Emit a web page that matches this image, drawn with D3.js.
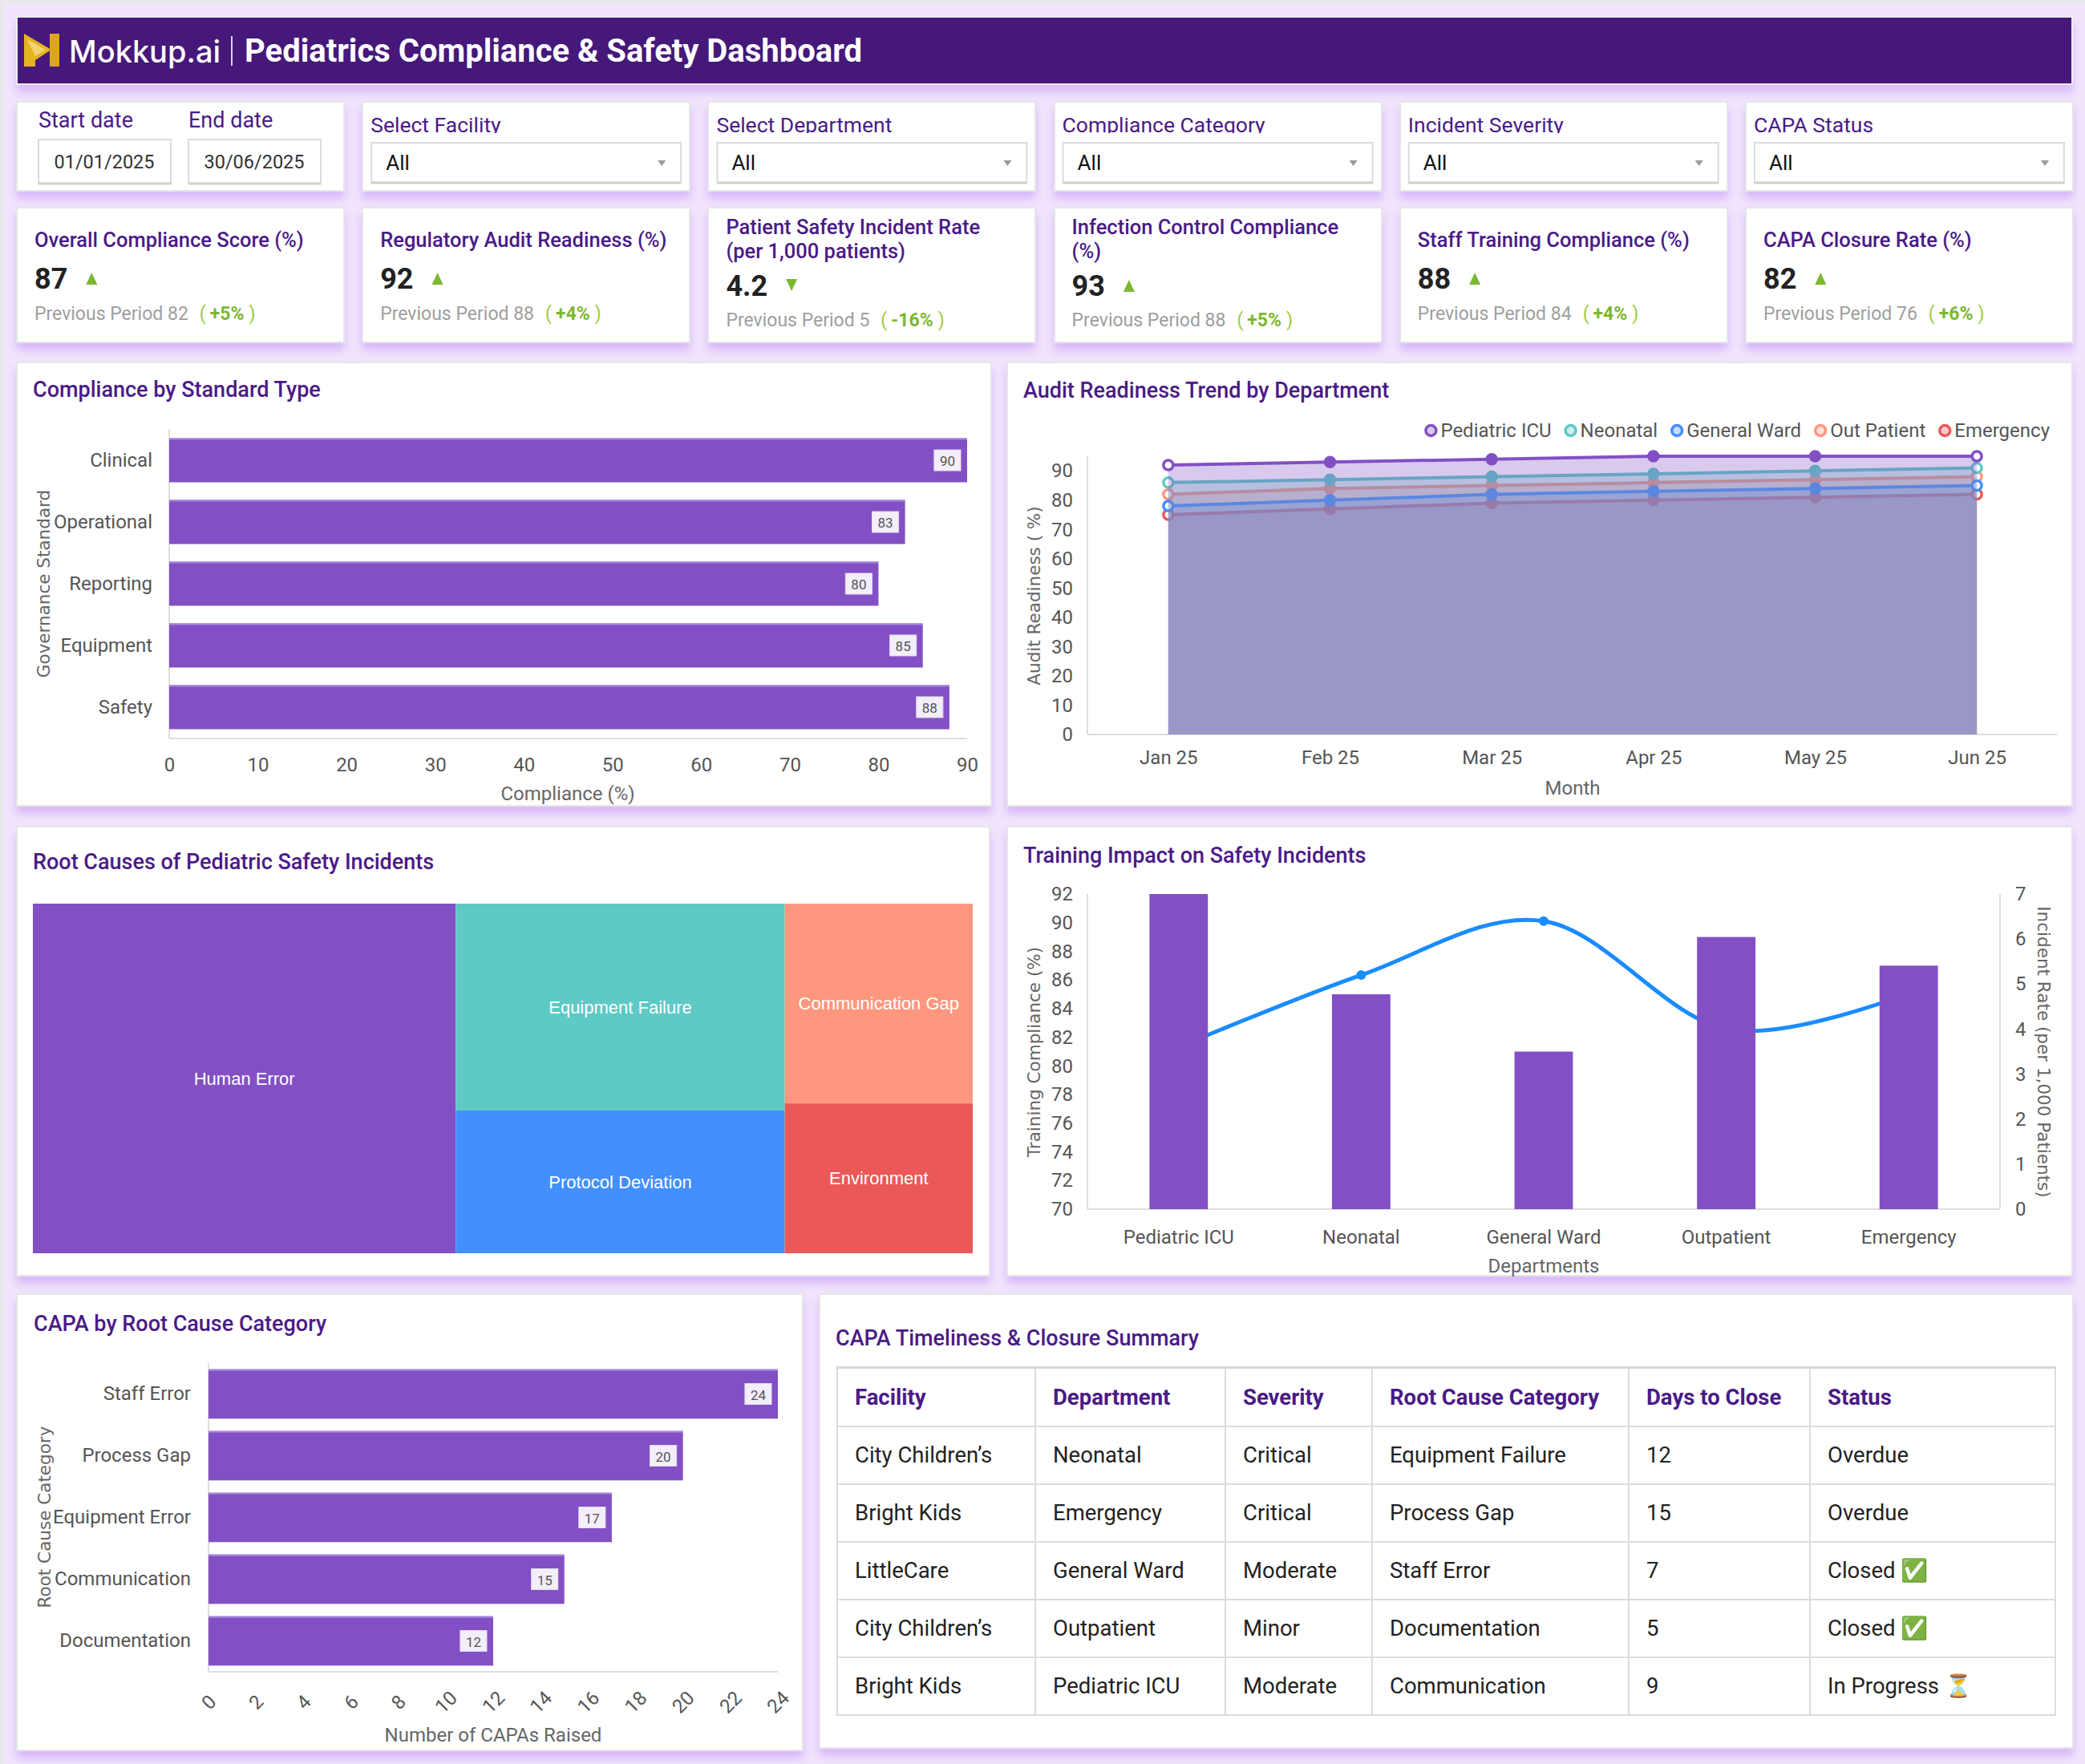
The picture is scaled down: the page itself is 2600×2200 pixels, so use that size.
<!DOCTYPE html>
<html>
<head>
<meta charset="utf-8">
<title>Pediatrics Compliance &amp; Safety Dashboard</title>
<script src="https://cdn.jsdelivr.net/npm/d3@7"></script>
<style>
  html, body { margin:0; padding:0; }
  body { width:2600px; height:2200px; background:#f1e5fd; font-family:Roboto, "Noto Sans", sans-serif; overflow:hidden; }
  #page { position:relative; width:2600px; height:2200px; box-shadow: inset 4px 4px 0 #e8e8e8; }
  .card { position:absolute; background:#fff; border:2px solid #e6e6e6; box-sizing:border-box;
          box-shadow:0 9px 10px rgba(196,150,246,0.55); }
  .header { background:#45187a; border-color:#efeaf6; }
  #capaTable { position:absolute; left:1043px; top:1704px; border-collapse:collapse; table-layout:fixed;
               font-family:Roboto, sans-serif; font-size:27.5px; color:#222; }
  #capaTable th, #capaTable td { border:2px solid #dcdcdc; padding:0 0 0 21px; text-align:left; height:70px; box-sizing:border-box; }
  #capaTable th { color:#4a1a87; font-weight:700; border-top:3px solid #d6d6d6; }
</style>
</head>
<body>
<div id="page"></div>
<script>
// ---------- données ----------
var dateLabels = ["Start date", "End date"];
var dateValues = ["01/01/2025", "30/06/2025"];
var filterLabels = ["Select Facility", "Select Department", "Compliance Category", "Incident Severity", "CAPA Status"];
var filterValues = ["All", "All", "All", "All", "All"];

var kpiTitles = [["Overall Compliance Score (%)"], ["Regulatory Audit Readiness (%)"],
                 ["Patient Safety Incident Rate", "(per 1,000 patients)"], ["Infection Control Compliance", "(%)"],
                 ["Staff Training Compliance (%)"], ["CAPA Closure Rate (%)"]];
var kpiValues = ["87", "92", "4.2", "93", "88", "82"];
var kpiPrevious = ["82", "88", "5", "88", "84", "76"];
var kpiChange = ["+5%", "+4%", "-16%", "+5%", "+4%", "+6%"];
var kpiDirection = ["up", "up", "down", "up", "up", "up"];

var standards = ["Clinical", "Operational", "Reporting", "Equipment", "Safety"];
var standardCompliance = [90, 83, 80, 85, 88];

var months = ["Jan 25", "Feb 25", "Mar 25", "Apr 25", "May 25", "Jun 25"];
var departments = ["Pediatric ICU", "Neonatal", "General Ward", "Out Patient", "Emergency"];
var readinessPediatricICU = [92, 93, 94, 95, 95, 95];
var readinessNeonatal = [86, 87, 88, 89, 90, 91];
var readinessGeneralWard = [78, 80, 82, 83, 84, 85];
var readinessOutPatient = [82, 84, 85, 86, 87, 88];
var readinessEmergency = [75, 77, 79, 80, 81, 82];

var rootCauses = ["Human Error", "Equipment Failure", "Protocol Deviation", "Communication Gap", "Environment"];
var rootCauseCounts = [63, 29, 20, 16, 12];

var trainingDepts = ["Pediatric ICU", "Neonatal", "General Ward", "Outpatient", "Emergency"];
var trainingCompliance = [92, 85, 81, 89, 87];
var incidentRate = [3.6, 5.2, 6.4, 4.0, 4.8];

var capaCategories = ["Staff Error", "Process Gap", "Equipment Error", "Communication", "Documentation"];
var capaCounts = [24, 20, 17, 15, 12];

var tableHeaders = ["Facility", "Department", "Severity", "Root Cause Category", "Days to Close", "Status"];
var tableRows = [
  ["City Children\u2019s", "Neonatal", "Critical", "Equipment Failure", "12", "Overdue"],
  ["Bright Kids", "Emergency", "Critical", "Process Gap", "15", "Overdue"],
  ["LittleCare", "General Ward", "Moderate", "Staff Error", "7", "Closed \u2705"],
  ["City Children\u2019s", "Outpatient", "Minor", "Documentation", "5", "Closed \u2705"],
  ["Bright Kids", "Pediatric ICU", "Moderate", "Communication", "9", "In Progress \u23F3"]
];

// ---------- styles ----------
var purple = "#8250c4";
var titleColor = "#4a1a87";
var tickColor = "#555";
var tickSize = 24;
var deptColors = ["#8250c4", "#5ec9c5", "#448ffe", "#ff977e", "#eb5858"];
var causeColors = ["#8250c4", "#5ec9c5", "#448ffe", "#ff977e", "#eb5858"];

var page = d3.select("#page");

/* cartes (div) sous le svg */
function card(x, y, w, h, cls) {
  page.append("div").attr("class", "card " + (cls || ""))
    .style("left", x + "px").style("top", y + "px").style("width", w + "px").style("height", h + "px");
}
card(20, 20, 2565, 86, "header");
function colX(i) { return 20 + i * 431.2; }
for (var i = 0; i < 6; i++) { card(colX(i), 126, 410, 113); card(colX(i), 258, 410, 170); }
card(20, 451, 1217, 555); card(1255, 451, 1330, 555);
card(20, 1030, 1215, 562); card(1255, 1030, 1330, 562);
card(20, 1613, 982, 571); card(1021, 1613, 1565, 568);

var svg = page.append("svg").attr("width", 2600).attr("height", 2200)
  .style("position", "absolute").style("left", "0px").style("top", "0px")
  .style("font-family", "Roboto, sans-serif");

// ---------- entete ----------
var logo = svg.append("g");
logo.append("path").attr("d", "M30,42 L64,62 L44,75 L44,83 L30,83 Z").attr("fill", "#e5b31f");
logo.append("path").attr("d", "M62,42 L74,42 L74,83 L62,83 Z").attr("fill", "#dba616");
logo.append("path").attr("d", "M34,49 L57,62 L44,70 Z").attr("fill", "#f4dc86").attr("opacity", 0.8);
svg.append("text").attr("x", 86).attr("y", 78).text("Mokkup.ai")
  .attr("font-family", "Inter, sans-serif").attr("font-size", 38).attr("font-weight", 500).attr("fill", "#fff");
svg.append("line").attr("x1", 289).attr("x2", 289).attr("y1", 45).attr("y2", 82).attr("stroke", "#d9cfe8").attr("stroke-width", 2);
svg.append("text").attr("x", 305).attr("y", 77).text("Pediatrics Compliance & Safety Dashboard")
  .attr("font-size", 40).attr("font-weight", 700).attr("fill", "#fff");

// ---------- filtres ----------
svg.append("defs").append("clipPath").attr("id", "clipLabel")
  .append("rect").attr("x", 0).attr("y", 120).attr("width", 2600).attr("height", 46);

dateLabels.forEach(function(lbl, j) {
  var x0 = [48, 235][j];
  svg.append("text").attr("x", x0).attr("y", 159).text(lbl).attr("font-size", 27).attr("fill", titleColor);
  svg.append("rect").attr("x", x0).attr("y", 174).attr("width", 165).attr("height", 55)
    .attr("fill", "#fff").attr("stroke", "#dcdcdc").attr("stroke-width", 2);
  svg.append("line").attr("x1", x0).attr("x2", x0 + 165).attr("y1", 229).attr("y2", 229).attr("stroke", "#cfcfcf").attr("stroke-width", 3);
  svg.append("text").attr("x", x0 + 82).attr("y", 210).attr("text-anchor", "middle").text(dateValues[j])
    .attr("font-size", 23.5).attr("fill", "#333");
});

filterLabels.forEach(function(lbl, j) {
  var x0 = colX(j + 1);
  svg.append("text").attr("x", x0 + 11).attr("y", 165).text(lbl).attr("font-size", 26.5)
    .attr("fill", titleColor).attr("clip-path", "url(#clipLabel)");
  svg.append("rect").attr("x", x0 + 12).attr("y", 178).attr("width", 386).attr("height", 50)
    .attr("fill", "#fff").attr("stroke", "#dcdcdc").attr("stroke-width", 2);
  svg.append("line").attr("x1", x0 + 12).attr("x2", x0 + 398).attr("y1", 228).attr("y2", 228).attr("stroke", "#cfcfcf").attr("stroke-width", 3);
  svg.append("text").attr("x", x0 + 30).attr("y", 212).text(filterValues[j]).attr("font-size", 26).attr("fill", "#111");
  var ax = x0 + 374;
  svg.append("path").attr("d", "M" + (ax - 5) + ",200 L" + (ax + 5) + ",200 L" + ax + ",207 Z").attr("fill", "#999");
});

// ---------- KPI ----------
kpiTitles.forEach(function(lines, k) {
  var x0 = colX(k) + 23;
  var two = lines.length > 1;
  var g = svg.append("g");
  lines.forEach(function(ln, j) {
    g.append("text").attr("x", x0).attr("y", (two ? 292 : 308) + j * 30).text(ln)
      .attr("font-size", 25.5).attr("font-weight", 500).attr("fill", titleColor);
  });
  var vy = two ? 369 : 360;
  var vt = g.append("text").attr("x", x0).attr("y", vy).text(kpiValues[k])
    .attr("font-size", 36).attr("font-weight", 700).attr("fill", "#222");
  var tx = x0 + vt.node().getComputedTextLength() + 30;
  var d = kpiDirection[k] === "up"
    ? "M" + (tx - 7) + "," + (vy - 5) + " L" + (tx + 7) + "," + (vy - 5) + " L" + tx + "," + (vy - 20) + " Z"
    : "M" + (tx - 7) + "," + (vy - 21) + " L" + (tx + 7) + "," + (vy - 21) + " L" + tx + "," + (vy - 6) + " Z";
  g.append("path").attr("d", d).attr("fill", "#7cb82f");
  var pt = g.append("text").attr("x", x0).attr("y", two ? 407 : 399).attr("font-size", 23);
  pt.append("tspan").text("Previous Period " + kpiPrevious[k]).attr("fill", "#9e9e9e");
  pt.append("tspan").attr("dx", 14).text("(").attr("fill", "#9ccc3c");
  pt.append("tspan").attr("dx", 5).text(kpiChange[k]).attr("fill", "#7cb82f").attr("font-weight", 700);
  pt.append("tspan").attr("dx", 6).text(")").attr("fill", "#9ccc3c");
});

// ---------- outils ----------
function cardTitle(x, y, txt) {
  svg.append("text").attr("x", x).attr("y", y).attr("dominant-baseline", "central").text(txt)
    .attr("font-size", 27).attr("font-weight", 500).attr("fill", titleColor);
}
function styleAxis(g) {
  g.select(".domain").remove();
  g.attr("font-size", tickSize).attr("font-family", "Roboto, sans-serif");
  g.selectAll("text").attr("fill", tickColor);
}
function axisLine(x1, y1, x2, y2) {
  svg.append("line").attr("x1", x1).attr("y1", y1).attr("x2", x2).attr("y2", y2)
    .attr("stroke", "#dedede").attr("stroke-width", 2);
}
function sideTitle(x, y, txt, angle) {
  svg.append("text").attr("transform", "translate(" + x + "," + y + ") rotate(" + angle + ")")
    .attr("text-anchor", "middle").attr("dominant-baseline", "central").text(txt)
    .attr("font-family", "DejaVu Sans, sans-serif").attr("font-size", 21.5).attr("fill", "#666");
}
function axisTitle(x, y, txt) {
  svg.append("text").attr("x", x).attr("y", y).attr("text-anchor", "middle").attr("dominant-baseline", "central")
    .text(txt).attr("font-size", tickSize).attr("fill", "#666");
}
function valueTag(g, xRight, cy, label) {
  var tg = g.append("g");
  var r = tg.append("rect");
  var t = tg.append("text").text(label).attr("font-size", 17).attr("fill", "#555")
    .attr("text-anchor", "middle").attr("dominant-baseline", "central");
  var w = t.node().getComputedTextLength() + 14;
  r.attr("x", xRight - w).attr("y", cy - 13).attr("width", w).attr("height", 26)
    .attr("fill", "#f3eefa").attr("stroke", "#e4dcf0");
  t.attr("x", xRight - w / 2).attr("y", cy + 1);
}
function hBars(cats, vals, xs, ys) {
  var g = svg.append("g");
  g.selectAll("rect").data(cats).join("rect")
    .attr("x", xs(0)).attr("y", function(d) { return ys(d); })
    .attr("width", function(d, i) { return xs(vals[i]) - xs(0); })
    .attr("height", ys.bandwidth()).attr("fill", purple);
  g.selectAll("line").data(cats).join("line")
    .attr("x1", xs(0)).attr("x2", function(d, i) { return xs(vals[i]); })
    .attr("y1", function(d) { return ys(d) + 1; }).attr("y2", function(d) { return ys(d) + 1; })
    .attr("stroke", "#a485db").attr("stroke-width", 2);
  cats.forEach(function(c, i) { valueTag(g, xs(vals[i]) - 8, ys(c) + ys.bandwidth() / 2, vals[i]); });
}

// ---------- Compliance by Standard Type ----------
cardTitle(41, 486, "Compliance by Standard Type");
var x1 = d3.scaleLinear().domain([0, 90]).range([211, 1206]);
var y1 = d3.scaleBand().domain(standards).range([535, 921]).paddingInner(0.286).paddingOuter(0.15);
axisLine(211, 535, 211, 921); axisLine(211, 921, 1206, 921);
hBars(standards, standardCompliance, x1, y1);
svg.append("g").attr("transform", "translate(0,921)")
  .call(d3.axisBottom(x1).tickValues(d3.range(0, 91, 10)).tickSize(0).tickPadding(24)).call(styleAxis);
svg.append("g").attr("transform", "translate(211,0)")
  .call(d3.axisLeft(y1).tickSize(0).tickPadding(21)).call(styleAxis);
axisTitle(708, 990, "Compliance (%)");
sideTitle(54, 728, "Governance Standard", -90);

// ---------- Audit Readiness Trend ----------
cardTitle(1276, 487, "Audit Readiness Trend by Department");
var x2 = d3.scalePoint().domain(months).range([1356, 2566]).padding(0.5);
var y2 = d3.scaleLinear().domain([0, 95]).range([916, 569]);
axisLine(1356, 569, 1356, 916); axisLine(1356, 916, 2566, 916);
var readiness = [readinessPediatricICU, readinessNeonatal, readinessGeneralWard, readinessOutPatient, readinessEmergency];
var area2 = d3.area().x(function(d, i) { return x2(months[i]); }).y0(y2(0)).y1(function(d) { return y2(d); });
var line2 = d3.line().x(function(d, i) { return x2(months[i]); }).y(function(d) { return y2(d); });
var g2 = svg.append("g");
for (var s = readiness.length - 1; s >= 0; s--) {
  var col = deptColors[s];
  g2.append("path").attr("d", area2(readiness[s])).attr("fill", col).attr("fill-opacity", 0.3);
  g2.append("path").attr("d", line2(readiness[s])).attr("fill", "none").attr("stroke", col).attr("stroke-width", 4);
  g2.selectAll(null).data(readiness[s]).join("circle")
    .attr("cx", function(d, i) { return x2(months[i]); }).attr("cy", function(d) { return y2(d); })
    .attr("r", 6).attr("stroke", col).attr("stroke-width", 3.5)
    .attr("fill", function(d, i) { return (i === 0 || i === months.length - 1) ? "#fff" : col; });
}
svg.append("g").attr("transform", "translate(0,916)")
  .call(d3.axisBottom(x2).tickSize(0).tickPadding(20)).call(styleAxis);
svg.append("g").attr("transform", "translate(1356,0)")
  .call(d3.axisLeft(y2).tickValues(d3.range(0, 91, 10)).tickSize(0).tickPadding(18)).call(styleAxis);
axisTitle((1356 + 2566) / 2, 983, "Month");
sideTitle(1289, 743, "Audit Readiness ( %)", -90);
// légende alignée à droite
var leg = svg.append("g");
var items = departments.map(function(dep, i) {
  var t = leg.append("text").text(dep).attr("font-size", tickSize).attr("fill", tickColor).attr("y", 537).attr("dominant-baseline", "central");
  return { t: t, w: t.node().getComputedTextLength(), c: deptColors[i] };
});
var total = d3.sum(items, function(it) { return it.w + 19; }) + 17 * (items.length - 1);
var lx = 2556 - total;
items.forEach(function(it) {
  leg.append("circle").attr("cx", lx + 7).attr("cy", 537).attr("r", 6.5).attr("fill", it.c).attr("fill-opacity", 0.3)
    .attr("stroke", it.c).attr("stroke-width", 3.5);
  it.t.attr("x", lx + 19);
  lx += 19 + it.w + 17;
});

// ---------- Treemap ----------
cardTitle(41, 1075, "Root Causes of Pediatric Safety Incidents");
var root = d3.hierarchy({ children: rootCauses.map(function(c, i) { return { name: c, value: rootCauseCounts[i], color: causeColors[i] }; }) })
  .sum(function(d) { return d.value || 0; });
d3.treemap().size([1172, 436]).tile(d3.treemapSquarify)(root);
var tm = svg.append("g").attr("transform", "translate(41,1127)");
var leaves = tm.selectAll("g").data(root.leaves()).join("g");
leaves.append("rect").attr("x", function(d) { return d.x0; }).attr("y", function(d) { return d.y0; })
  .attr("width", function(d) { return d.x1 - d.x0; }).attr("height", function(d) { return d.y1 - d.y0; })
  .attr("fill", function(d) { return d.data.color; });
leaves.append("text").attr("x", function(d) { return (d.x0 + d.x1) / 2; }).attr("y", function(d) { return (d.y0 + d.y1) / 2; })
  .attr("text-anchor", "middle").attr("dominant-baseline", "central").text(function(d) { return d.data.name; })
  .attr("font-family", "Liberation Sans, Arial, sans-serif").attr("font-size", 22).attr("fill", "#fff");

// ---------- Training Impact ----------
cardTitle(1276, 1067, "Training Impact on Safety Incidents");
var x4 = d3.scaleBand().domain(trainingDepts).range([1356, 2494]).paddingInner(0.68).paddingOuter(0.34);
var y4 = d3.scaleLinear().domain([70, 92]).range([1508, 1115]);
var y4r = d3.scaleLinear().domain([0, 7]).range([1508, 1115]);
axisLine(1356, 1115, 1356, 1508); axisLine(2494, 1115, 2494, 1508); axisLine(1356, 1508, 2494, 1508);
var line4 = d3.line().curve(d3.curveCardinal)
  .x(function(d, i) { return x4(trainingDepts[i]) + x4.bandwidth() / 2; }).y(function(d) { return y4r(d); });
svg.append("path").attr("d", line4(incidentRate)).attr("fill", "none").attr("stroke", "#1a8cff").attr("stroke-width", 5);
svg.append("g").selectAll("circle").data(incidentRate).join("circle")
  .attr("cx", function(d, i) { return x4(trainingDepts[i]) + x4.bandwidth() / 2; }).attr("cy", function(d) { return y4r(d); })
  .attr("r", 6).attr("fill", "#1a8cff");
svg.append("g").selectAll("rect").data(trainingDepts).join("rect")
  .attr("x", function(d) { return x4(d); }).attr("width", x4.bandwidth())
  .attr("y", function(d, i) { return y4(trainingCompliance[i]); })
  .attr("height", function(d, i) { return 1508 - y4(trainingCompliance[i]); }).attr("fill", purple);
svg.append("g").attr("transform", "translate(0,1508)")
  .call(d3.axisBottom(x4).tickSize(0).tickPadding(26)).call(styleAxis);
svg.append("g").attr("transform", "translate(1356,0)")
  .call(d3.axisLeft(y4).tickValues(d3.range(70, 93, 2)).tickSize(0).tickPadding(18)).call(styleAxis);
svg.append("g").attr("transform", "translate(2494,0)")
  .call(d3.axisRight(y4r).tickValues(d3.range(0, 8, 1)).tickFormat(d3.format("d")).tickSize(0).tickPadding(19)).call(styleAxis);
axisTitle((1356 + 2494) / 2, 1579, "Departments");
sideTitle(1289, 1312, "Training Compliance (%)", -90);
sideTitle(2548, 1312, "Incident Rate (per 1,000 Patients)", 90);

// ---------- CAPA by Root Cause Category ----------
cardTitle(42, 1651, "CAPA by Root Cause Category");
var x5 = d3.scaleLinear().domain([0, 24]).range([260, 970]);
var y5 = d3.scaleBand().domain(capaCategories).range([1700, 2085]).paddingInner(0.2).paddingOuter(0.1);
axisLine(260, 1700, 260, 2085); axisLine(260, 2085, 970, 2085);
hBars(capaCategories, capaCounts, x5, y5);
var ax5 = svg.append("g").attr("transform", "translate(0,2085)")
  .call(d3.axisBottom(x5).tickValues(d3.range(0, 25, 2)).tickSize(0)).call(styleAxis);
ax5.selectAll("text").attr("y", null).attr("dy", null).attr("text-anchor", "middle").attr("dominant-baseline", "central")
  .attr("transform", "translate(0,38) rotate(-45)");
svg.append("g").attr("transform", "translate(260,0)")
  .call(d3.axisLeft(y5).tickSize(0).tickPadding(22)).call(styleAxis);
axisTitle(615, 2164, "Number of CAPAs Raised");
sideTitle(55, 1892, "Root Cause Category", -90);

// ---------- Tableau ----------
cardTitle(1042, 1669, "CAPA Timeliness & Closure Summary");
var colWidths = [247, 237, 183, 320, 226, 306];
var table = page.append("table").attr("id", "capaTable").style("width", d3.sum(colWidths) + "px");
table.append("colgroup").selectAll("col").data(colWidths).join("col").style("width", function(d) { return d + "px"; });
table.append("thead").append("tr").selectAll("th").data(tableHeaders).join("th").text(function(d) { return d; })
  .style("height", "73px");
table.append("tbody").selectAll("tr").data(tableRows).join("tr")
  .selectAll("td").data(function(r) { return r; }).join("td").text(function(d) { return d; })
  .style("height", "72px");
</script>
</body>
</html>
